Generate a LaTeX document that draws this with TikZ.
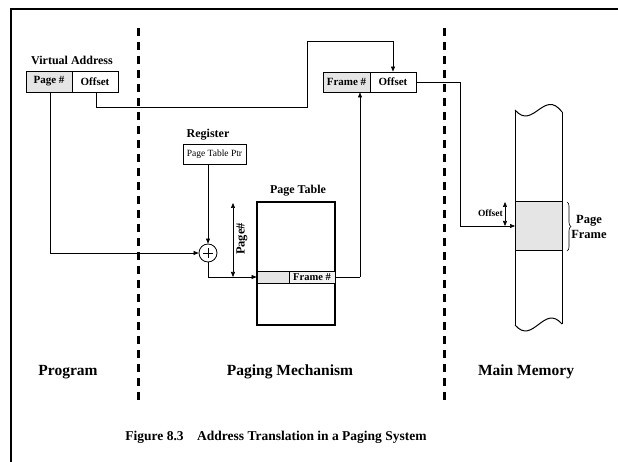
\documentclass[tikz,border=0pt]{standalone}
\usepackage{fontspec}
\setmainfont{Liberation Serif}
\usetikzlibrary{arrows.meta,decorations.pathreplacing}
\begin{document}
\begin{tikzpicture}[x=1pt,y=-1pt,
  lbl/.style={font=\bfseries\fontsize{12}{13}\selectfont, inner sep=0pt},
  big/.style={font=\bfseries\fontsize{15.5}{17}\selectfont, inner sep=0pt},
  cell/.style={draw, line width=0.9pt, font=\bfseries\fontsize{11}{12}\selectfont, inner sep=0pt},
  conn/.style={line width=0.6pt},
  arr/.style={conn, -{Triangle[length=5pt,width=4pt]}},
  darr/.style={conn, {Triangle[length=5pt,width=4pt]}-{Triangle[length=5pt,width=4pt]}},
  divider/.style={line width=3pt, dash pattern=on 8pt off 6pt}
]
\useasboundingbox (0,0) rectangle (618,462);
% frame (top and left only)
\draw[line width=2.5pt] (11,462) -- (11,9) -- (618,9);
% dashed dividers
\draw[divider] (138,28) -- (138,400);
\draw[divider] (444,28) -- (444,400);

% virtual address
\node[lbl] (valbl) at (72,60) {Virtual Address};
\node[cell, fill=gray!20, minimum width=46pt, minimum height=21pt] (vpage) at (49,81.5) {Page \#};
\node[cell, minimum width=46pt, minimum height=21pt] (voff) at (95,81.5) {Offset};

% physical address
\node[cell, fill=gray!20, minimum width=47pt, minimum height=20pt] (pframe) at (346.5,82) {Frame \#};
\node[cell, minimum width=46pt, minimum height=20pt] (poff) at (393,82) {Offset};

% register
\node[lbl] (reglbl) at (208,135) {Register};
\node[draw, line width=0.9pt, minimum width=63pt, minimum height=20pt, inner sep=0pt,
  font=\fontsize{9.5}{10}\selectfont] (reg) at (214.5,154) {Page Table Ptr};

% adder
\node[draw, circle, line width=0.8pt, minimum size=18pt, inner sep=0pt] (add) at (208,253) {};
\draw[line width=0.8pt] (203,253) -- (213,253) (208,248) -- (208,258);

% page table
\node[lbl] (ptlbl) at (298,191) {Page Table};
\node[draw, line width=1.6pt, minimum width=78pt, minimum height=123pt, inner sep=0pt] (pt) at (296,263.5) {};
\node[draw, line width=0.8pt, fill=gray!20, minimum width=32pt, minimum height=12pt, inner sep=0pt] (pteL) at (273,277) {};
\node[cell, line width=0.8pt, fill=gray!10, minimum width=46pt, minimum height=12pt, font=\bfseries\fontsize{10.5}{11}\selectfont] (pteR) at (312,277) {Frame \#};

% main memory
\coordinate (mtl) at (515,110);
\coordinate (mtr) at (562,112);
\coordinate (mbl) at (515,325);
\coordinate (mbr) at (562,324);
\node[draw, line width=1pt, fill=gray!20, minimum width=47pt, minimum height=49pt, inner sep=0pt] (pf) at (538.5,226.5) {};
\draw[line width=1pt] (mtl) .. controls (533,131) and (544,88) .. (mtr);
\draw[line width=1pt] (mbl) .. controls (533,346) and (544,303) .. (mbr);
\draw[line width=1pt] (mtl) -- (mbl);
\draw[line width=1pt] (mtr) -- (mbr);
\draw[conn, decorate, decoration={brace, amplitude=4pt}] (567,202) -- (567,251);
\node[lbl, align=center, font=\bfseries\fontsize{12.5}{15}\selectfont] (pflbl) at (589,227) {Page\\Frame};

% connectors
\coordinate (c1) at (96,107);
\coordinate (c2) at (307,107);
\coordinate (c3) at (307,41);
\coordinate (c4) at (393,41);
\draw[conn] (voff.south -| c1) -- (c1) -- (c2) -- (c3) -- (c4);
\draw[arr] (c4) -- (poff.north);

\coordinate (d1) at (50,253);
\draw[conn] (vpage.south -| d1) -- (d1);
\draw[arr] (d1) -- (add.west);

\draw[arr] (reg.south -| add) -- (add.north);

\coordinate (e1) at (208,277);
\draw[conn] (add.south) -- (e1);
\draw[arr] (e1) -- (pteL.west);

\coordinate (pg1) at (233,203);
\coordinate (pg2) at (233,277);
\draw[darr] (pg1) -- (pg2);
\node[lbl, rotate=90, font=\bfseries\fontsize{12.5}{13}\selectfont] (pglbl) at (242,239) {Page\#};

\coordinate (f1) at (360,277);
\draw[conn] (pteR.east) -- (f1);
\draw[arr] (f1) -- (f1 |- pframe.south);

\coordinate (g1) at (460,82);
\coordinate (g2) at (460,226);
\draw[conn] (poff.east) -- (g1) -- (g2);
\draw[arr] (g2) -- (515,226);

\coordinate (o1) at (505,202);
\coordinate (o2) at (505,226);
\draw[darr] (o1) -- (o2);
\node[lbl, font=\bfseries\fontsize{9.5}{10}\selectfont, anchor=east] (offlbl) at (503,213) {Offset};

% bottom labels
\node[big] (prog) at (68,372) {Program};
\node[big] (pm) at (290,372) {Paging Mechanism};
\node[big] (mm) at (526,372) {Main Memory};
\node[lbl, font=\bfseries\fontsize{13.5}{15}\selectfont] (cap) at (276,437) {Figure 8.3\hspace{1em}Address Translation in a Paging System};
\end{tikzpicture}
\end{document}
